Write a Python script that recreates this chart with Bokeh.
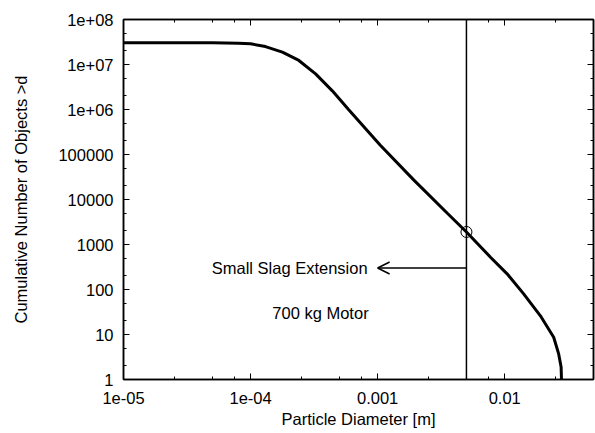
from bokeh.plotting import figure
from bokeh.models import (LogAxis, FixedTicker, Span, Arrow, OpenHead, Label,
                          CustomJSTickFormatter)
from bokeh.embed import file_html
from bokeh.resources import INLINE

# ---- data ----
diameter = [1e-5, 5e-5, 8e-5, 1e-4, 1.31e-4, 1.78e-4, 2.4e-4, 3.25e-4, 4.4e-4,
            5.9e-4, 1.05e-3, 1.93e-3, 3.52e-3, 5e-3, 7.73e-3, 1.045e-2, 1.41e-2,
            1.91e-2, 2.43e-2, 2.66e-2, 2.78e-2, 2.8e-2]
count = [3.05e7, 3.04e7, 2.98e7, 2.88e7, 2.5e7, 1.88e7, 1.23e7, 6.2e6, 2.6e6,
         1.0e6, 1.6e5, 2.7e4, 5.0e3, 1.9e3, 522, 223, 80,
         26, 8.7, 3.7, 1.9, 1.0]

cut_diameter = 0.005
cut_count = 1900
arrow_end_diameter = 0.001
arrow_count = 300
motor_count = 30

x_major = [1e-5, 1e-4, 1e-3, 1e-2]
x_major_labels = ["1e-05", "1e-04", "0.001", "0.01"]
x_minor_mult = [2.5, 5, 7.5]
y_major = [1, 10, 100, 1000, 10000, 100000, 1e6, 1e7, 1e8]
y_major_labels = ["1", "10", "100", "1000", "10000", "100000", "1e+06", "1e+07", "1e+08"]
y_minor_mult = [2, 5]

x_minor = [m * t for t in x_major for m in x_minor_mult]
y_minor = [m * t for t in y_major[:-1] for m in y_minor_mult]

FONT = "Liberation Sans"
FS = "16.5px"

p = figure(width=595, height=433, x_axis_type="log", y_axis_type="log",
           x_range=(1e-5, 0.05), y_range=(1, 1e8),
           output_backend="svg", toolbar_location=None,
           min_border_left=123, min_border_right=2, min_border_top=19,
           min_border_bottom=54)
p.grid.visible = False
p.outline_line_color = "black"
p.outline_line_width = 1.5
p.background_fill_color = "white"
p.border_fill_color = "white"


def label_formatter(ticks, labels):
    keys = [repr(float(t)) for t in ticks]
    table = "{" + ",".join(f'"{k}":"{l}"' for k, l in zip(keys, labels)) + "}"
    return CustomJSTickFormatter(code=f"""
        const table = {table};
        for (const k in table) {{
            if (Math.abs(Math.log10(tick) - Math.log10(parseFloat(k))) < 1e-6) return table[k];
        }}
        return "";
    """)


def style_axis(ax, ticks, minor, labels, show_labels):
    ax.ticker = FixedTicker(ticks=ticks, minor_ticks=minor)
    ax.major_tick_in = 6
    ax.major_tick_out = 0
    ax.minor_tick_in = 3
    ax.minor_tick_out = 0
    ax.major_tick_line_color = "black"
    ax.minor_tick_line_color = "black"
    ax.axis_line_color = "black"
    ax.axis_line_width = 1.5
    if show_labels:
        ax.formatter = label_formatter(ticks, labels)
        ax.major_label_text_font = FONT
        ax.major_label_text_font_size = FS
        ax.major_label_text_color = "black"
        ax.axis_label_text_font = FONT
        ax.axis_label_text_font_size = FS
        ax.axis_label_text_font_style = "normal"
        ax.axis_label_text_color = "black"
    else:
        ax.formatter = CustomJSTickFormatter(code="return '';")
        ax.major_label_text_font_size = "1px"
        ax.major_label_standoff = 0


xa = p.xaxis[0]
style_axis(xa, x_major, x_minor, x_major_labels, True)
xa.axis_label = "Particle Diameter [m]"
xa.major_label_standoff = 12
xa.axis_label_standoff = 3

ya = p.yaxis[0]
style_axis(ya, y_major, y_minor, y_major_labels, True)
ya.axis_label = "Cumulative Number of Objects >d"
ya.major_label_standoff = 10
ya.axis_label_standoff = 25

top = LogAxis()
style_axis(top, x_major, x_minor, x_major_labels, False)
p.add_layout(top, "above")
right = LogAxis()
style_axis(right, y_major, y_minor, y_major_labels, False)
p.add_layout(right, "right")

p.line(diameter, count, line_color="black", line_width=3)

p.add_layout(Span(location=cut_diameter, dimension="height",
                  line_color="black", line_width=1.5))
p.scatter([cut_diameter], [cut_count], marker="circle", size=11,
          fill_color=None, line_color="black", line_width=1)

p.add_layout(Arrow(end=OpenHead(size=12, line_width=1.5, line_color="black"),
                   x_start=cut_diameter, y_start=arrow_count,
                   x_end=arrow_end_diameter, y_end=arrow_count,
                   line_width=1.5, line_color="black"))

p.add_layout(Label(x=arrow_end_diameter, y=arrow_count, x_offset=-10,
                   text="Small Slag Extension", text_align="right",
                   text_baseline="middle", text_font=FONT,
                   text_font_size=FS, text_color="black"))
p.add_layout(Label(x=arrow_end_diameter, y=motor_count, x_offset=-9,
                   text="700 kg Motor", text_align="right",
                   text_baseline="middle", text_font=FONT,
                   text_font_size=FS, text_color="black"))

open("out.html", "w").write(file_html(p, INLINE))
